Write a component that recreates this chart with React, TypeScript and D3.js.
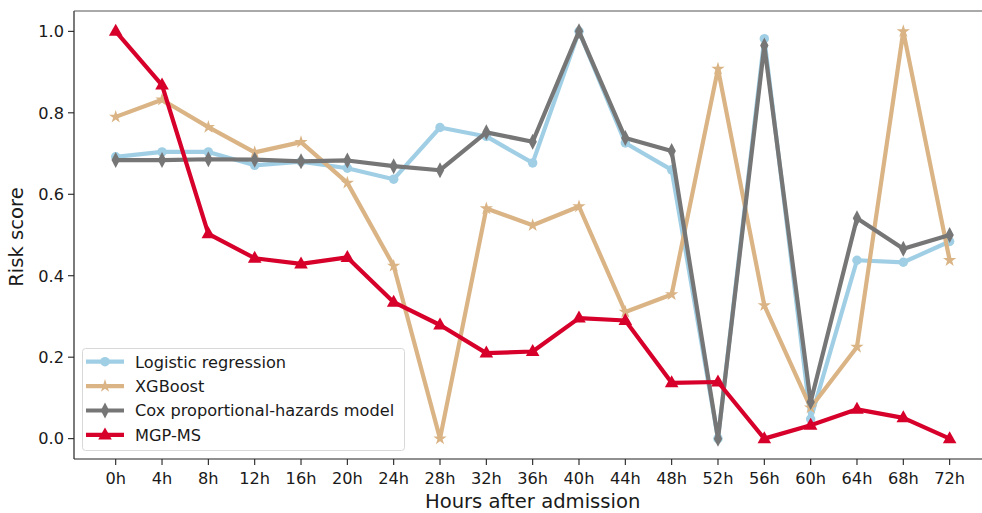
import React from "react";
import * as d3 from "d3";

const hours = ["0h","4h","8h","12h","16h","20h","24h","28h","32h","36h","40h","44h","48h","52h","56h","60h","64h","68h","72h"];
const logistic = [0.692,0.704,0.704,0.671,0.680,0.664,0.637,0.764,0.742,0.677,1.0,0.726,0.660,0.0,0.982,0.048,0.438,0.433,0.484];
const xgboost = [0.790,0.832,0.765,0.703,0.728,0.628,0.424,0.0,0.565,0.524,0.570,0.311,0.354,0.908,0.327,0.076,0.225,1.0,0.438];
const cox = [0.684,0.684,0.686,0.685,0.681,0.683,0.669,0.659,0.752,0.729,1.0,0.738,0.706,0.0,0.965,0.090,0.541,0.466,0.500];
const mgp = [1.0,0.868,0.503,0.443,0.429,0.445,0.335,0.279,0.210,0.214,0.296,0.290,0.137,0.139,0.0,0.033,0.072,0.051,0.0];
const yTicks = [0, 0.2, 0.4, 0.6, 0.8, 1.0];

const seriesNames = ["Logistic regression","XGBoost","Cox proportional-hazards model","MGP-MS"];
const seriesValues = [logistic, xgboost, cox, mgp];
const seriesColors = ["#a0cfe5","#dab485","#767676","#d6002b"];

const W = 982, H = 513;
const left = 74, top = 11, bottom = 459;
const font = "'DejaVu Sans', sans-serif";
const tickSize = 16.2;
const labelSize = 19.6;

function markerPath(kind: number): string {
  if (kind === 0) return d3.symbol(d3.symbolCircle, 70)()!;
  if (kind === 1) return d3.symbol(d3.symbolStar, 55)()!;
  if (kind === 2) return "M0,-8L4.2,0L0,8L-4.2,0Z";
  return "M0,-7.5L6.8,4.5L-6.8,4.5Z";
}

export default function App() {
  // categorical positions 0..18 with 5% margins; the right spine falls just off-canvas
  const x = d3.scaleLinear().domain([-0.9, 18.9]).range([left, left + 19.8 * 46.33]);
  const y = d3.scaleLinear().domain([-0.05, 1.05]).range([bottom, top]);
  const line = d3.line<number>().x((_, i) => x(i)).y(d => y(d));

  return (
    <svg width={W} height={H} style={{ position: "absolute", left: 0, top: 0, background: "#fff" }} fontFamily={font}>
      <defs>
        <clipPath id="plotArea">
          <rect x={left} y={top} width={x(18.9) - left} height={bottom - top} />
        </clipPath>
      </defs>

      {seriesValues.map((vals, s) => (
        <g key={s} clipPath="url(#plotArea)">
          <path d={line(vals)!} fill="none" stroke={seriesColors[s]} strokeWidth={4.2} strokeLinejoin="round" />
          {vals.map((v, i) => (
            <path key={i} d={markerPath(s)} transform={`translate(${x(i)},${y(v)})`} fill={seriesColors[s]} />
          ))}
        </g>
      ))}

      {/* spines */}
      <line x1={left} x2={left} y1={top} y2={bottom} stroke="#222" strokeWidth={1.2} />
      <line x1={left} x2={W} y1={bottom} y2={bottom} stroke="#222" strokeWidth={1.2} />
      <line x1={left} x2={W} y1={top} y2={top} stroke="#555" strokeWidth={1.2} />

      {/* y axis */}
      {yTicks.map(t => (
        <g key={t}>
          <line x1={left - 6} x2={left} y1={y(t)} y2={y(t)} stroke="#222" strokeWidth={1.1} />
          <text x={left - 10} y={y(t)} dy="0.36em" textAnchor="end" fontSize={tickSize} fill="#1a1a1a">{t.toFixed(1)}</text>
        </g>
      ))}
      <text transform={`translate(23,${(top + bottom) / 2 + 2}) rotate(-90)`} textAnchor="middle" fontSize={labelSize} fill="#1a1a1a">Risk score</text>

      {/* x axis */}
      {hours.map((h, i) => (
        <g key={h}>
          <line x1={x(i)} x2={x(i)} y1={bottom} y2={bottom + 6} stroke="#222" strokeWidth={1.1} />
          <text x={x(i)} y={bottom + 25} textAnchor="middle" fontSize={tickSize} fill="#1a1a1a">{h}</text>
        </g>
      ))}
      <text x={(left + x(18.9)) / 2} y={508} textAnchor="middle" fontSize={labelSize} fill="#1a1a1a">Hours after admission</text>

      {/* legend */}
      <rect x={82.5} y={348.5} width={322} height={102} rx={3} fill="#fff" fillOpacity={0.8} stroke="#d8d8d8" strokeWidth={1} />
      {seriesNames.map((name, s) => {
        const ly = 361.7 + s * 24.4;
        return (
          <g key={name}>
            <line x1={86} x2={124} y1={ly} y2={ly} stroke={seriesColors[s]} strokeWidth={4.2} />
            <path d={markerPath(s)} transform={`translate(105,${ly})`} fill={seriesColors[s]} />
            <text x={135} y={ly} dy="0.36em" fontSize={tickSize} fill="#1a1a1a">{name}</text>
          </g>
        );
      })}
    </svg>
  );
}
